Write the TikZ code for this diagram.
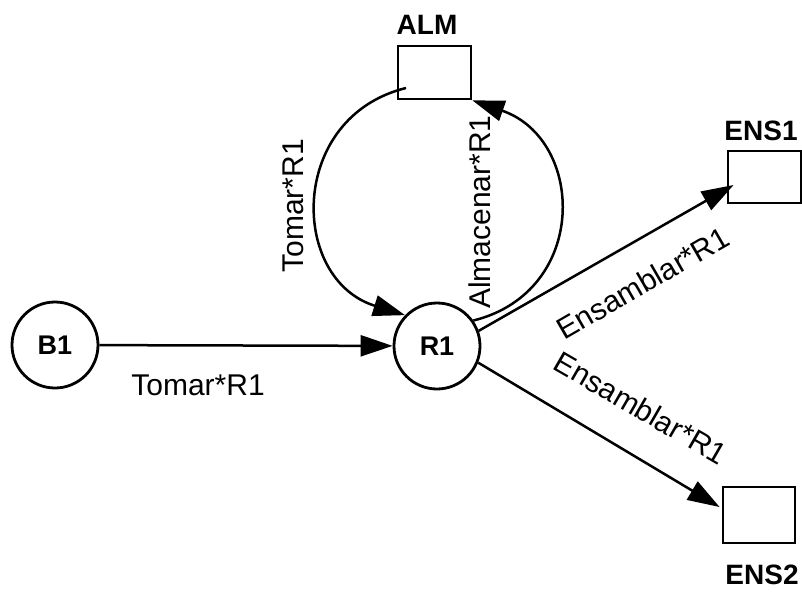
\documentclass[tikz,border=0pt]{standalone}
\usepackage{fontspec}
\setmainfont{Liberation Sans}
\usetikzlibrary{arrows.meta,calc}
\begin{document}
\begin{tikzpicture}[x=1pt,y=-1pt,
  state/.style={circle,draw,line width=2.8pt,minimum size=86pt,inner sep=0pt,font=\fontsize{27}{29}\selectfont\bfseries},
  store/.style={rectangle,draw,line width=2.8pt,inner sep=0pt},
  lbl/.style={font=\fontsize{28}{30}\selectfont\bfseries,inner sep=0pt},
  elbl/.style={font=\fontsize{30}{32}\selectfont,inner sep=0pt},
  flow/.style={line width=2.5pt,-{Triangle[length=32pt,width=21pt]}}]
\useasboundingbox (0,0) rectangle (802,592);
% nodes
\node[state] (B1) at (55,345) {B1};
\node[state] (R1) at (437,346) {R1};
\node[store,minimum width=73pt,minimum height=53pt] (ALM) at (434.5,72.5) {};
\node[store,minimum width=73pt,minimum height=52pt] (ENS1) at (764.5,177) {};
\node[store,minimum width=72pt,minimum height=56pt] (ENS2) at (759,515) {};
% store names
\node[lbl] (tALM) at (427,25) {ALM};
\node[lbl] (tENS1) at (761,131) {ENS1};
\node[lbl] (tENS2) at (762,575) {ENS2};
% connectors
\draw[flow] (B1) -- (R1);
\draw[flow] ($(ALM.center)+(-28.5,15.5)$) .. controls +(-118,29) and +(-116,-36) .. (R1.136);
\draw[flow] (R1.35) .. controls +(116,-29) and +(113,39) .. (ALM.south east);
\draw[flow] (R1.20) -- ($(ENS1.west)+(7,8)$);
\draw[flow] (R1.-22) -- ($(ENS2.west)+(-2,-8)$);
% flow labels
\node[elbl] (l1) at (198,385) {Tomar*R1};
\node[elbl,rotate=90] (l2) at (293,206) {Tomar*R1};
\node[elbl,rotate=90] (l3) at (480,212) {Almacenar*R1};
\node[elbl,rotate=30] (l4) at (643,283) {Ensamblar*R1};
\node[elbl,rotate=-30] (l5) at (641,408) {Ensamblar*R1};
\end{tikzpicture}
\end{document}
